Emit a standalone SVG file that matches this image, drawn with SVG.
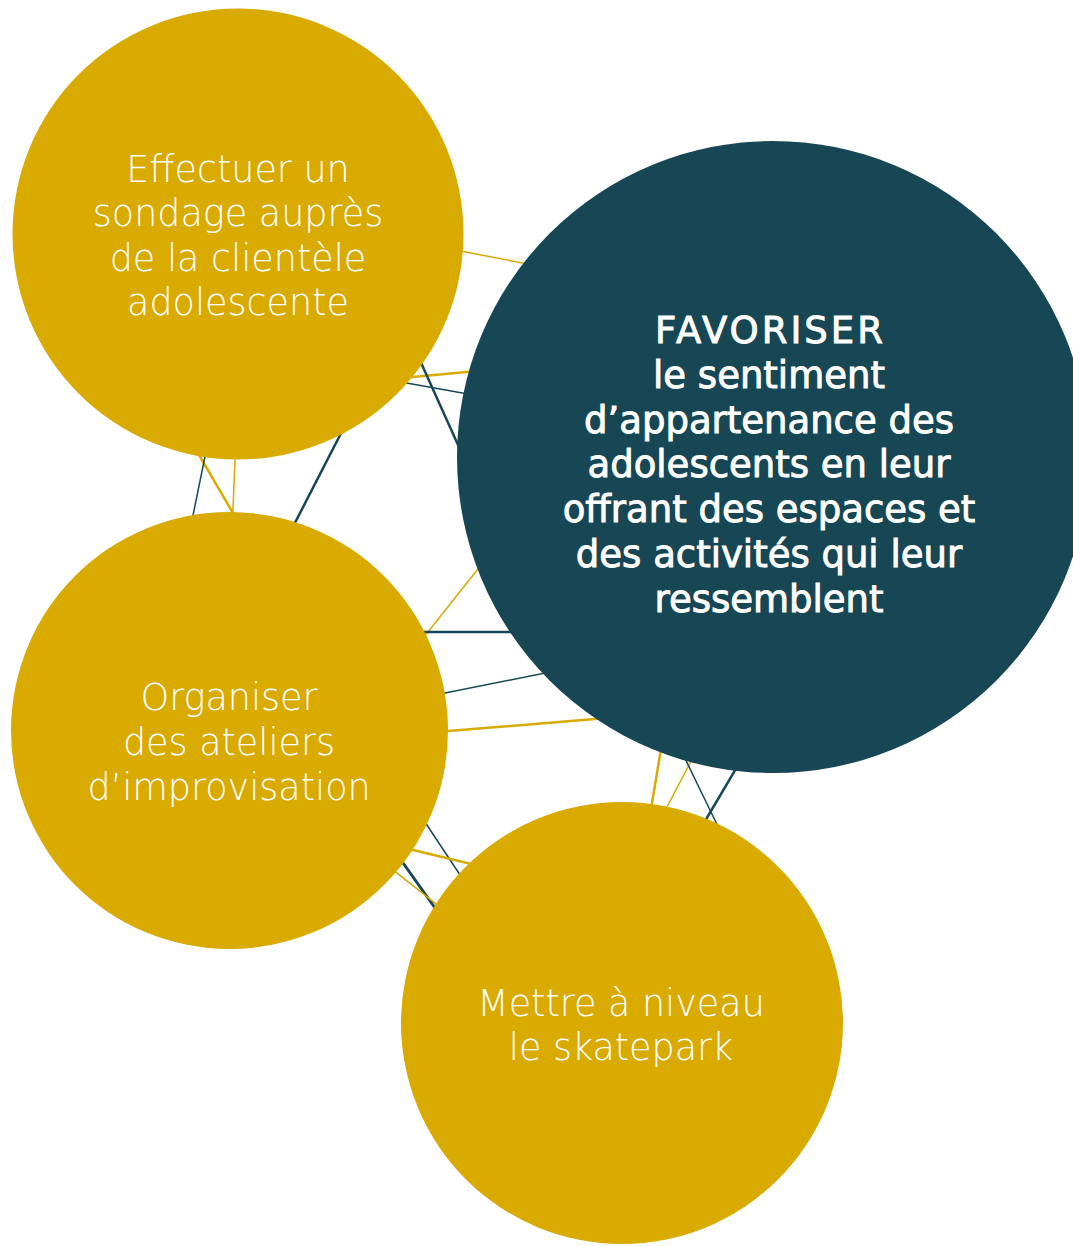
<svg xmlns="http://www.w3.org/2000/svg" width="1073" height="1246" viewBox="0 0 1073 1246">
<style>
.g{stroke:#D9AA00;fill:none}
.d{stroke:#174754;fill:none}
.t1{stroke-width:1.5}
.t2{stroke-width:2.5}
.t3{stroke-width:3}
.gold{fill:#D9AA00}
.dark{fill:#174754}
.lt{font-family:"DejaVu Sans","Liberation Sans",sans-serif;font-weight:200;font-size:36.5px;fill:#FFFFFF;text-anchor:middle}
.bt{font-family:"DejaVu Sans","Liberation Sans",sans-serif;font-weight:400;font-size:37px;fill:#FFFFFF;stroke:#FFFFFF;stroke-width:0.9;text-anchor:middle}
</style>
<rect width="1073" height="1246" fill="#FFFFFF"/>
<g id="connectors">
<line class="g t1" x1="426" y1="244.3" x2="560" y2="270.3"/>
<line class="g t2" x1="380" y1="380" x2="510" y2="368"/>
<line class="d t1" x1="380" y1="378.2" x2="510" y2="401.4"/>
<line class="d t2" x1="400" y1="316" x2="472" y2="476"/>
<line class="d t2" x1="355" y1="406" x2="280" y2="552"/>
<line class="g t2" x1="188" y1="436" x2="244" y2="532"/>
<line class="d t1" x1="209" y1="437" x2="189" y2="535"/>
<line class="g t1" x1="236" y1="438" x2="232" y2="532"/>
<line class="g t1" x1="493" y1="550" x2="416" y2="647"/>
<line class="d t2" x1="400" y1="632" x2="540" y2="632"/>
<line class="d t1" x1="420" y1="698" x2="570" y2="668"/>
<line class="g t2" x1="420" y1="733.3" x2="625" y2="716.6"/>
<line class="g t2" x1="665" y1="725" x2="648" y2="827"/>
<line class="g t1" x1="700" y1="744" x2="657" y2="826"/>
<line class="d t1" x1="677" y1="742" x2="725" y2="841"/>
<line class="d t2" x1="747" y1="750" x2="685" y2="855"/>
<line class="d t1" x1="411" y1="801" x2="474" y2="896"/>
<line class="g t2" x1="390" y1="844.5" x2="490" y2="868.5"/>
<line class="d t3" x1="391" y1="846" x2="445" y2="922"/>
<line class="g t1" x1="380" y1="859.6" x2="455" y2="918.8"/>
</g>
<g id="node-sondage">
<circle class="gold" cx="238" cy="234" r="225.5"/>
<text class="lt" x="238" y="181.5">Effectuer un</text>
<text class="lt" x="238" y="226">sondage auprès</text>
<text class="lt" x="238" y="270.5">de la clientèle</text>
<text class="lt" x="238" y="315">adolescente</text>
</g>
<g id="node-favoriser">
<circle class="dark" cx="773" cy="457" r="316"/>
<text class="bt" x="770.5" y="343" letter-spacing="3">FAVORISER</text>
<text class="bt" x="769" y="388">le sentiment</text>
<text class="bt" x="769" y="433">d’appartenance des</text>
<text class="bt" x="769" y="477">adolescents en leur</text>
<text class="bt" x="769" y="522">offrant des espaces et</text>
<text class="bt" x="769" y="567">des activités qui leur</text>
<text class="bt" x="769" y="612">ressemblent</text>
</g>
<g id="node-ateliers">
<circle class="gold" cx="229.5" cy="730.5" r="218.5"/>
<text class="lt" x="229" y="710">Organiser</text>
<text class="lt" x="229" y="755">des ateliers</text>
<text class="lt" x="229" y="800">d’improvisation</text>
</g>
<g id="node-skatepark">
<circle class="gold" cx="622" cy="1023" r="221"/>
<text class="lt" x="621" y="1016">Mettre à niveau</text>
<text class="lt" x="621" y="1060">le skatepark</text>
</g>
</svg>
